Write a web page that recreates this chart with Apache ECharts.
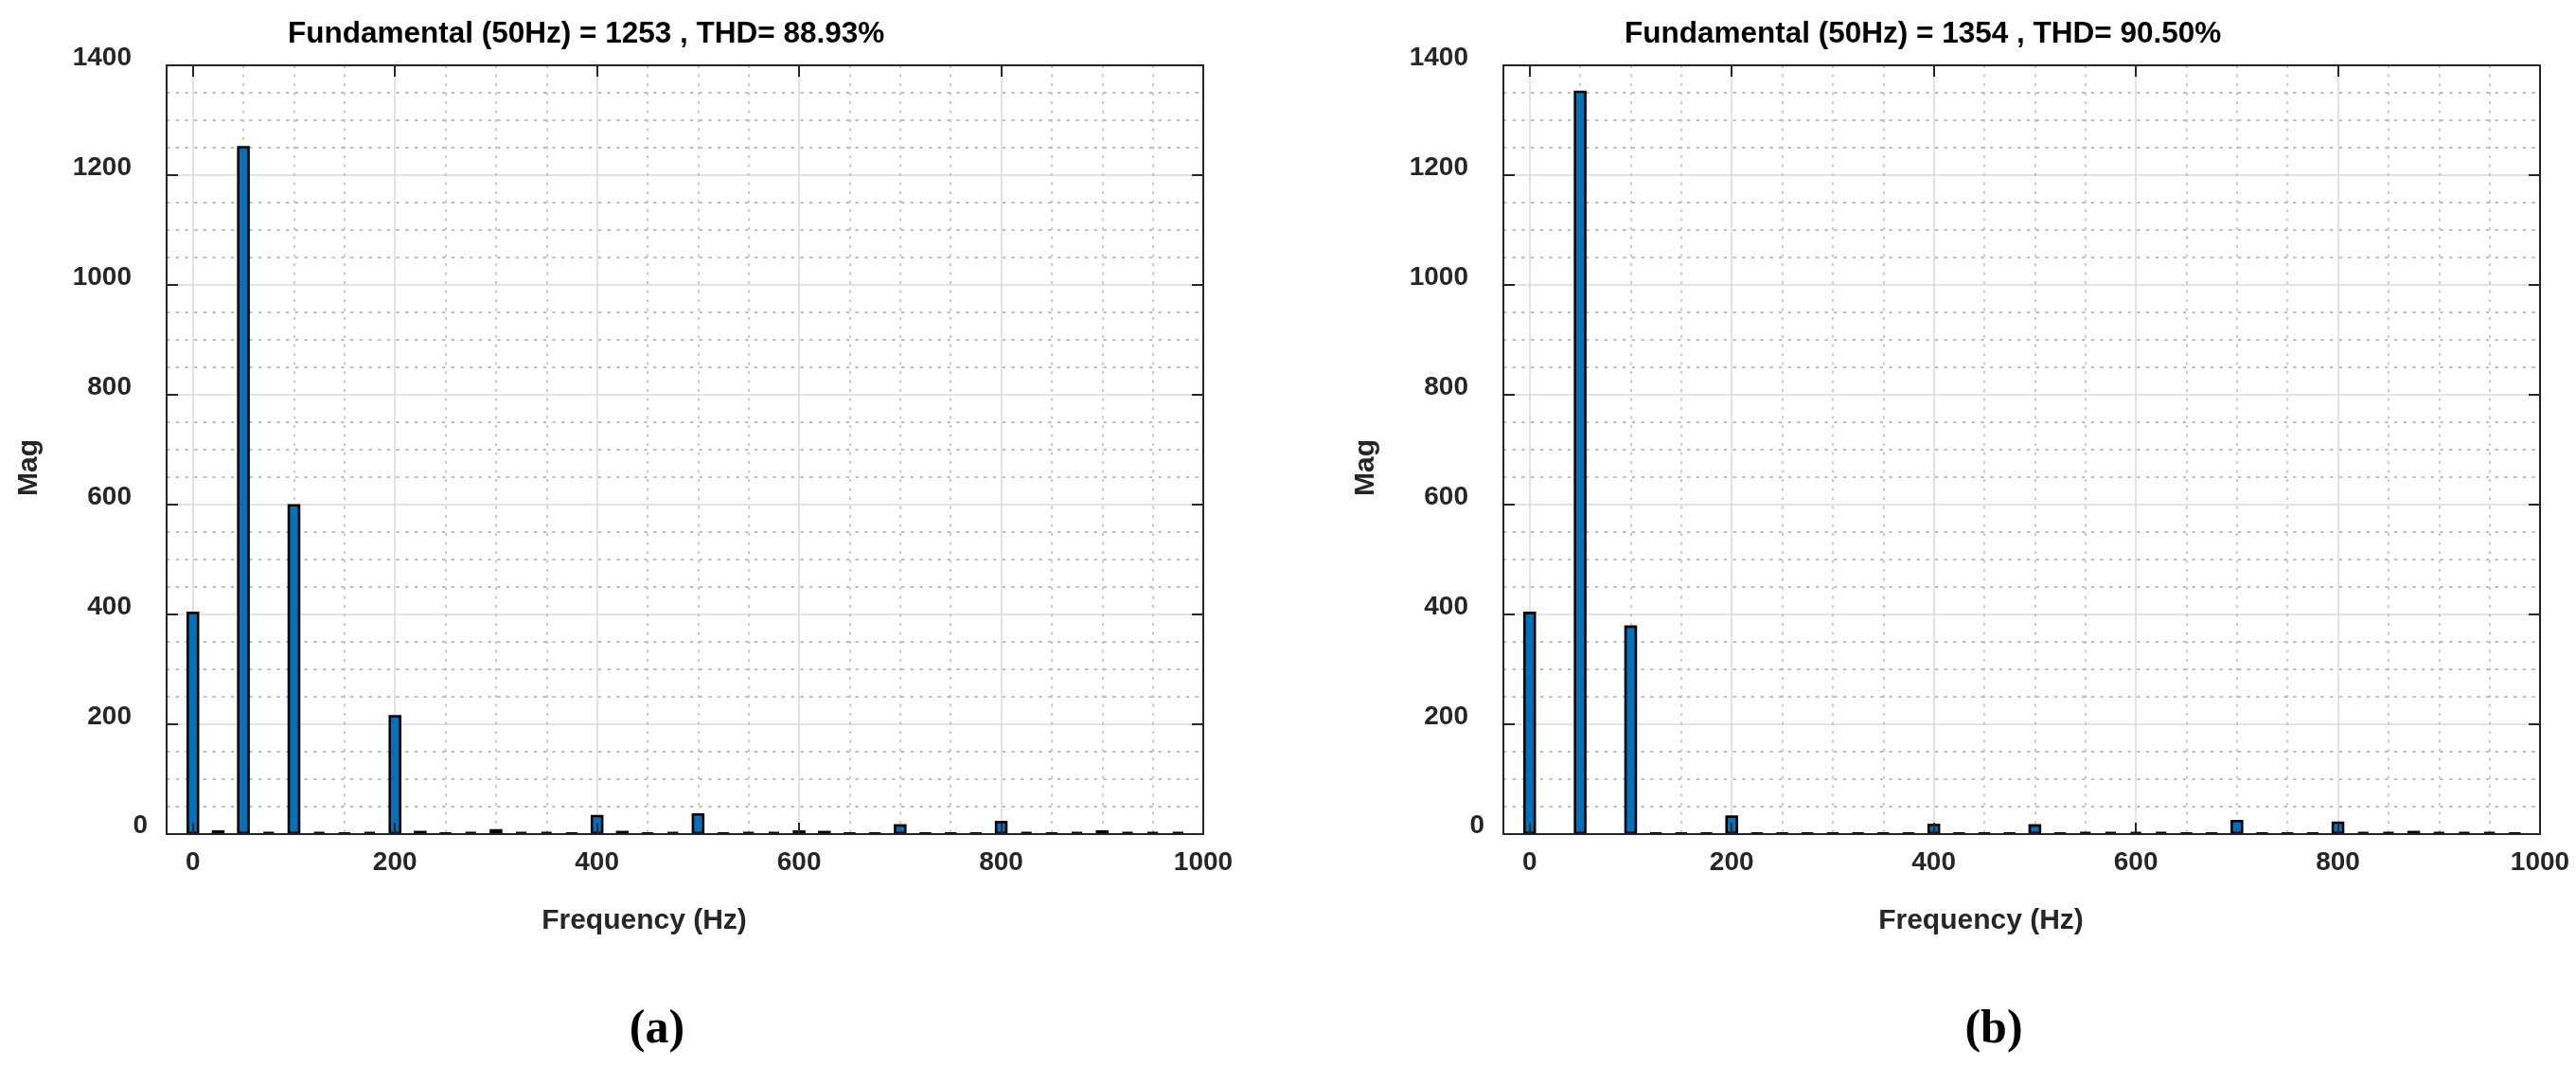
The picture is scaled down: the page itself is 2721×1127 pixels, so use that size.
<!DOCTYPE html>
<html>
<head>
<meta charset="utf-8">
<title>Harmonic spectrum</title>
<script src="https://cdn.jsdelivr.net/npm/echarts@6/dist/echarts.min.js"></script>
<style>
html, body { margin: 0; padding: 0; background: #fff; }
#main { width: 2721px; height: 1127px; }
</style>
</head>
<body>
<div id="main"></div>
<script>
// one bar every 25 Hz
var freqs = [0, 25, 50, 75, 100, 125, 150, 175, 200, 225, 250, 275, 300, 325, 350, 375,
             400, 425, 450, 475, 500, 525, 550, 575, 600, 625, 650, 675, 700, 725, 750, 775,
             800, 825, 850, 875, 900, 925, 950, 975];

var magA = [405, 7, 1253, 4, 601, 4, 2, 4, 217, 6, 2, 4, 9, 4, 4, 2,
            35, 6, 2, 4, 38, 2, 4, 4, 7, 6, 2, 2, 18, 2, 2, 2,
            24, 4, 2, 4, 7, 4, 4, 4];

var magB = [405, null, 1354, null, 380, 2, 2, 2, 34, 2, 2, 2, 2, 2, 2, 2,
            19, 2, 2, 2, 18, 2, 4, 4, 4, 4, 2, 2, 26, 2, 2, 2,
            23, 4, 4, 6, 4, 4, 4, 2];

var titles = ['Fundamental (50Hz) = 1253 , THD= 88.93%',
              'Fundamental (50Hz) = 1354 , THD= 90.50%'];
var panelTags = ['a', 'b'];

// axis ranges
var xMin = -26, xMax = 1000;
var yMin = 0, yMax = 1400, yStep = 200;

var INK = '#262626';
var FONT = '"Liberation Sans", Arial, Helvetica, sans-serif';
var SERIF = '"Liberation Serif", "Times New Roman", serif';

var chart = echarts.init(document.getElementById('main'));

var grids = [], xAxes = [], yAxes = [], series = [], titleList = [];
var panelLeft = [176, 1588];

function edgeLine() {
    return {show: true, onZero: false, lineStyle: {color: INK, width: 2}};
}
function innerTick() {
    return {show: true, inside: true, length: 12, lineStyle: {color: INK, width: 2}};
}
var majorGrid = {show: true, lineStyle: {color: '#dadada', width: 1.5}};

[magA, magB].forEach(function (mags, i) {
    grids.push({left: panelLeft[i], top: 69, width: 1095, height: 812,
                show: false, outerBoundsMode: 'none'});

    // bottom axis: labels + ticks, above the bars
    xAxes.push({
        gridIndex: i, type: 'value', position: 'bottom', min: xMin, max: xMax, splitNumber: 5, z: 5,
        name: 'Frequency (Hz)', nameLocation: 'middle', nameGap: 77, nameMoveOverlap: false,
        nameTextStyle: {fontFamily: FONT, fontSize: 30, fontWeight: 'bold', color: INK,
                        padding: [0, 86, 0, 0]},
        axisLine: edgeLine(), axisTick: innerTick(),
        axisLabel: {showMinLabel: false, margin: 16, fontFamily: FONT, fontSize: 28,
                    fontWeight: 'bold', color: INK,
                    formatter: function (v) { return String(v); }},
        splitLine: {show: false}
    });
    // top axis: box edge, ticks and the grid lines, under the bars
    xAxes.push({
        gridIndex: i, type: 'value', position: 'top', min: xMin, max: xMax, splitNumber: 5, z: 0,
        axisLine: edgeLine(), axisTick: innerTick(), axisLabel: {show: false},
        splitLine: majorGrid,
        minorTick: {show: false, splitNumber: 4},
        minorSplitLine: {show: true, lineStyle: {color: '#bcbcbc', width: 1.6, type: [3, 6.5]}}
    });

    yAxes.push({
        gridIndex: i, type: 'value', position: 'left', min: yMin, max: yMax, interval: yStep, z: 5,
        name: 'Mag', nameLocation: 'middle', nameGap: 130, nameMoveOverlap: false,
        nameTextStyle: {fontFamily: FONT, fontSize: 30, fontWeight: 'bold', color: INK,
                        padding: [0, 38, 0, 0]},
        axisLine: edgeLine(), axisTick: innerTick(),
        axisLabel: {
            margin: 20,
            formatter: function (v) { return v === 0 ? '{z|0}' : '{n|' + v + '}'; },
            rich: {
                n: {fontFamily: FONT, fontSize: 28, fontWeight: 'bold', color: INK, padding: [0, 17, 16, 0]},
                z: {fontFamily: FONT, fontSize: 28, fontWeight: 'bold', color: INK, padding: [0, 0, 18, 0]}
            }
        },
        splitLine: {show: false}
    });
    yAxes.push({
        gridIndex: i, type: 'value', position: 'right', min: yMin, max: yMax, interval: yStep, z: 0,
        axisLine: edgeLine(), axisTick: innerTick(), axisLabel: {show: false},
        splitLine: majorGrid,
        minorTick: {show: false, splitNumber: 4},
        minorSplitLine: {show: true, lineStyle: {color: '#bcbcbc', width: 2, type: [3.3, 6.4]}}
    });

    series.push({
        type: 'bar', xAxisIndex: 2 * i, yAxisIndex: 2 * i,
        barWidth: 13.5, silent: true,
        itemStyle: {color: '#0072BD', borderColor: '#000', borderWidth: 2.6},
        data: freqs.map(function (f, k) { return [f, mags[k] == null ? '-' : mags[k]]; })
    });

    titleList.push({
        text: titles[i], left: panelLeft[i] + 123, top: 15,
        textStyle: {fontFamily: FONT, fontSize: 31.5, fontWeight: 'bold', color: '#000'}
    });
    titleList.push({
        text: '{p|(}{b|' + panelTags[i] + '}{p|)}', left: panelLeft[i] + 513, top: 1058,
        textAlign: 'center',
        textStyle: {rich: {
            p: {fontFamily: SERIF, fontSize: 50, color: '#000'},
            b: {fontFamily: SERIF, fontSize: 50, fontWeight: 'bold', color: '#000'}
        }}
    });
});

chart.setOption({
    backgroundColor: '#fff',
    animation: false,
    title: titleList,
    grid: grids,
    xAxis: xAxes,
    yAxis: yAxes,
    series: series
});
</script>
</body>
</html>
